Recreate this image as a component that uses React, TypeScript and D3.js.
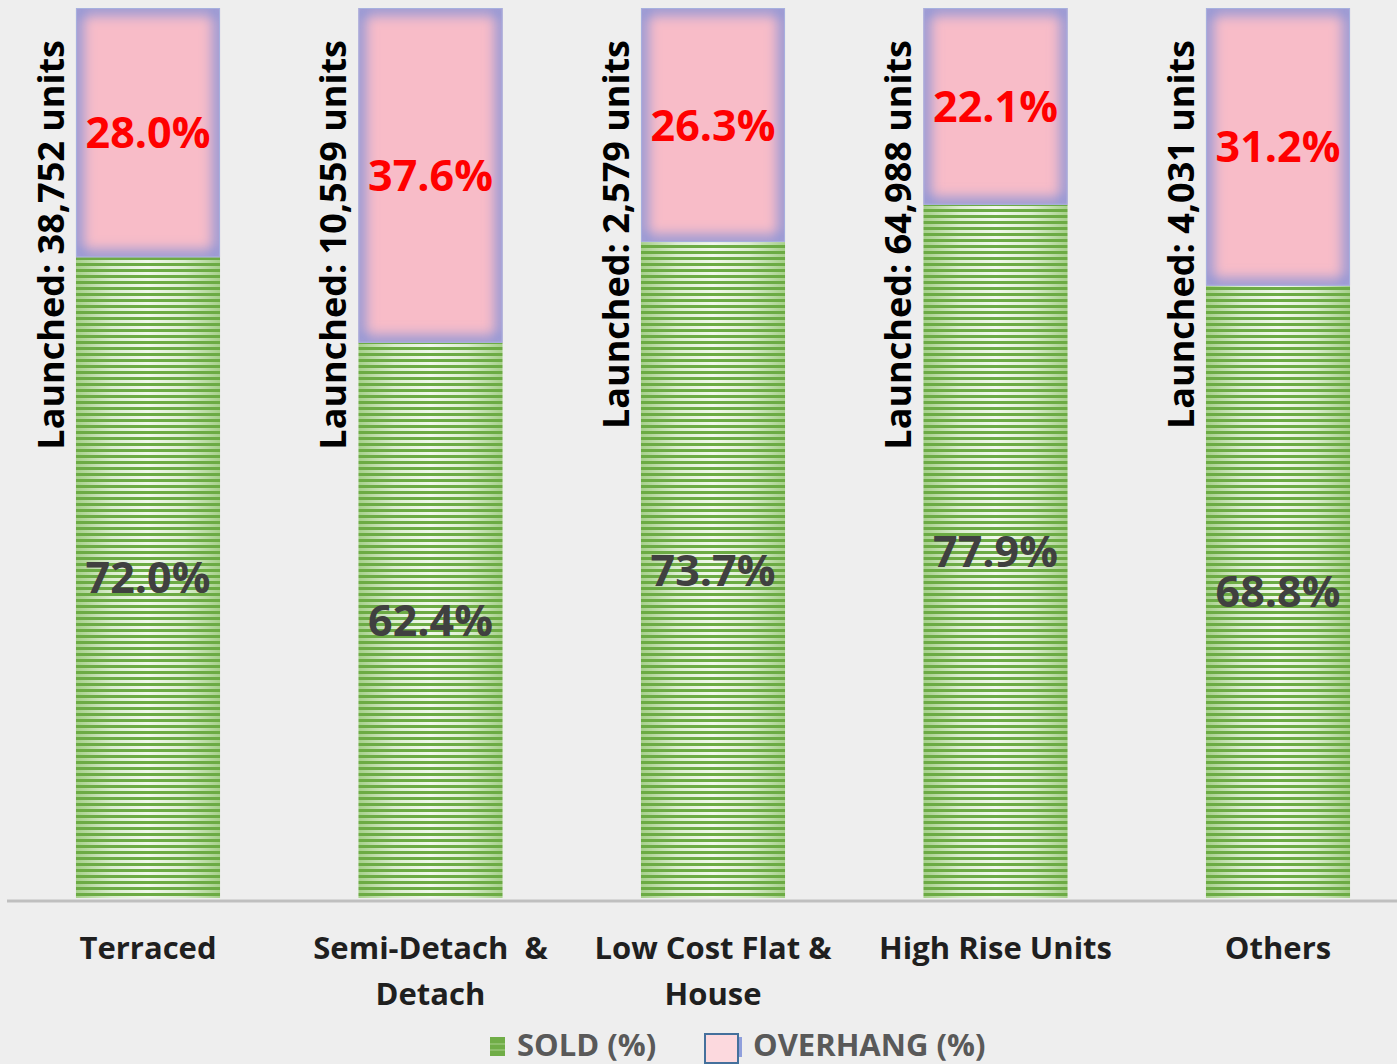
import React from 'react'
import * as d3 from 'd3'

const categories = ['Terraced', 'Semi-Detach  &\nDetach', 'Low Cost Flat &\nHouse', 'High Rise Units', 'Others']
const soldPct = [72.0, 62.4, 73.7, 77.9, 68.8]
const overhangPct = [28.0, 37.6, 26.3, 22.1, 31.2]
const launchedUnits = [38752, 10559, 2579, 64988, 4031]
const legendLabels = ['SOLD (%)', 'OVERHANG (%)']

const W = 1397
const H = 1064
const FONT = '"Open Sans", Lato, sans-serif'

export default function App() {
  const x = d3.scaleBand<string>()
    .domain(categories)
    .range([6.75, 1419.25])
    .paddingInner(0.49)
    .paddingOuter(0.245)
  const y = d3.scaleLinear().domain([0, 100]).range([898, 8])
  const bw = x.bandwidth()
  const fmt = d3.format(',')

  return (
    <svg width={W} height={H} style={{ position: 'absolute', left: 0, top: 0 }} fontFamily={FONT}>
      <defs>
        <linearGradient id="stripeGrad" x1="0" x2="1" y1="0" y2="0">
          <stop offset="0%" stopColor="#a6d08a" />
          <stop offset="25%" stopColor="#dbedd0" />
          <stop offset="50%" stopColor="#f1f8ec" />
          <stop offset="75%" stopColor="#dbedd0" />
          <stop offset="100%" stopColor="#a6d08a" />
        </linearGradient>
        <filter id="glow" x="-10%" y="-10%" width="120%" height="120%">
          <feGaussianBlur stdDeviation="7" />
        </filter>
        {categories.map((c, i) => {
          const bx = x(c)!
          const top = y(soldPct[i] + overhangPct[i])
          const mid = y(soldPct[i])
          return (
            <React.Fragment key={c}>
              <pattern id={`stripes-${i}`} patternUnits="userSpaceOnUse" x={bx} y={0} width={bw} height={6}>
                <rect width={bw} height={6} fill="#6cab44" />
                <rect y={2} width={bw} height={3} fill="url(#stripeGrad)" />
              </pattern>
              <clipPath id={`clip-${i}`}>
                <rect x={bx} y={top} width={bw} height={mid - top} />
              </clipPath>
            </React.Fragment>
          )
        })}
      </defs>

      <rect width={W} height={H} fill="#eeeeee" />

      {categories.map((c, i) => {
        const bx = x(c)!
        const top = y(soldPct[i] + overhangPct[i])
        const mid = y(soldPct[i])
        const base = y(0)
        return (
          <g key={c}>
            {/* sold */}
            <rect x={bx} y={mid} width={bw} height={base - mid} fill={`url(#stripes-${i})`} />
            {/* overhang with blue edge glow */}
            <rect x={bx} y={top} width={bw} height={mid - top} fill="#f8bcc8" />
            <g clipPath={`url(#clip-${i})`}>
              <rect x={bx} y={top} width={bw} height={mid - top} fill="none"
                stroke="#7d8fd8" strokeWidth={12} filter="url(#glow)" />
            </g>
            <rect x={bx + 0.5} y={top + 0.5} width={bw - 1} height={mid - top - 1} fill="none"
              stroke="#a6b0de" strokeWidth={1} />

            <text x={bx + bw / 2} y={(top + mid) / 2} dy="0.36em" textAnchor="middle"
              fontSize={43} fontWeight={700} fill="#ff0000">
              {overhangPct[i].toFixed(1)}%
            </text>
            <text x={bx + bw / 2} y={(mid + base) / 2} dy="0.36em" textAnchor="middle"
              fontSize={43} fontWeight={700} fill="#404040">
              {soldPct[i].toFixed(1)}%
            </text>

            <text transform={`translate(${bx - 12},40) rotate(-90)`} textAnchor="end"
              fontSize={36} fontWeight={700} fill="#000">
              Launched: {fmt(launchedUnits[i])} units
            </text>

            <text x={bx + bw / 2} y={959} textAnchor="middle" fontSize={31} fontWeight={700} fill="#1f1f1f">
              {c.split('\n').map((line, j) => (
                <tspan key={j} x={bx + bw / 2} dy={j === 0 ? 0 : 46} style={{ whiteSpace: 'pre' }}>{line}</tspan>
              ))}
            </text>
          </g>
        )
      })}

      <line x1={7} x2={W} y1={901} y2={901} stroke="#bfbfbf" strokeWidth={3} />

      <g fontSize={31} fontWeight={700} fill="#595959">
        <rect x={490} y={1037} width={15} height={19} fill="#70ad47" />
        <line x1={490} x2={505} y1={1044} y2={1044} stroke="#a9d18e" strokeWidth={1} />
        <line x1={490} x2={505} y1={1050} y2={1050} stroke="#a9d18e" strokeWidth={1} />
        <text x={517} y={1056}>{legendLabels[0]}</text>
        <rect x={738} y={1037} width={4} height={20} fill="#8f9fdc" />
        <rect x={705} y={1034} width={33} height={29} fill="#fcd9de" stroke="#44709c" strokeWidth={2} />
        <text x={753} y={1056}>{legendLabels[1]}</text>
      </g>
    </svg>
  )
}
